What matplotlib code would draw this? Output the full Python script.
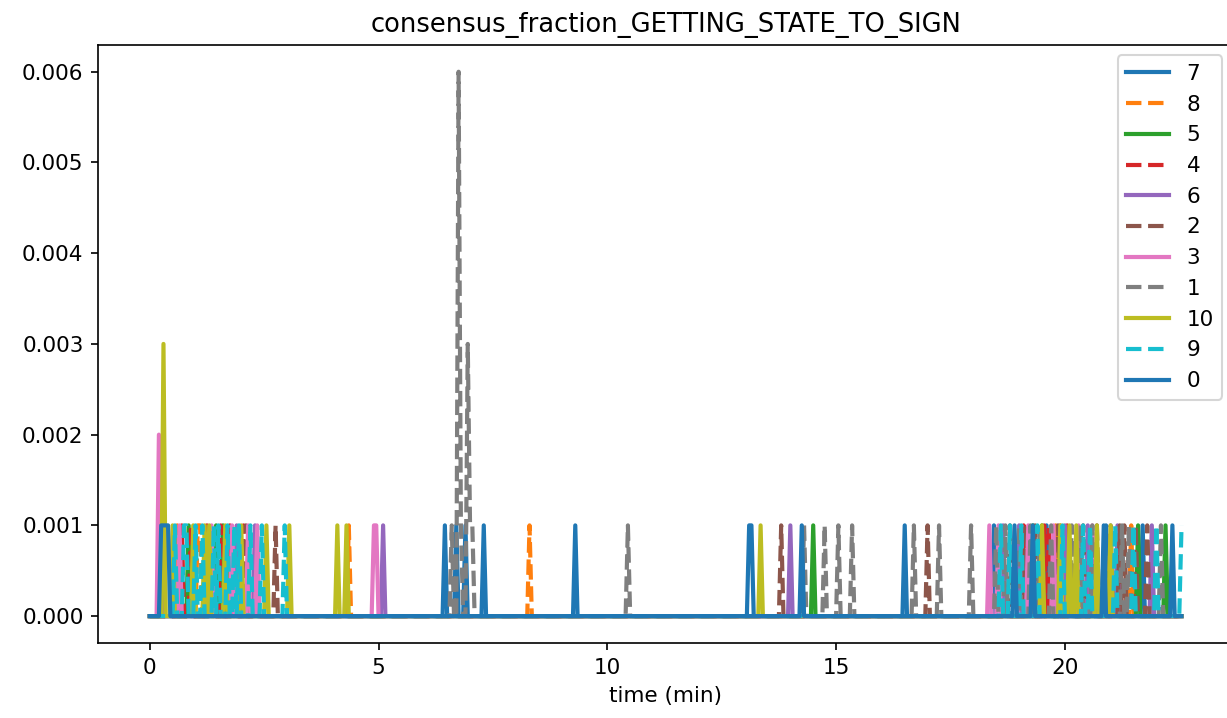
import numpy as np
import matplotlib
matplotlib.use("Agg")
import matplotlib.pyplot as plt

plt.rcParams["font.size"] = 10.3

# sampling (minutes)
dt = 0.05
t_end = 22.55

# spikes per node: (time in min, fraction)
spikes_7 = [(6.45, 0.001), (6.7, 0.001), (6.9, 0.001), (7.3, 0.001), (9.3, 0.001),
            (13.1, 0.001), (13.15, 0.001), (16.5, 0.001), (18.45, 0.001),
            (19.6, 0.001), (20.9, 0.001), (21.7, 0.001)]
spikes_8 = [(0.6, 0.001), (1.05, 0.001), (1.1, 0.001), (4.35, 0.001), (8.3, 0.001),
            (19.8, 0.001), (19.9, 0.001), (21.45, 0.001)]
spikes_5 = [(0.85, 0.001), (1.45, 0.001), (1.6, 0.001), (14.5, 0.001), (19.3, 0.001),
            (19.5, 0.001), (21.6, 0.001), (22.2, 0.001)]
spikes_4 = [(0.7, 0.001), (0.9, 0.001), (1.25, 0.001), (1.55, 0.001), (1.75, 0.001),
            (2.05, 0.001), (19.1, 0.001), (19.55, 0.001), (19.65, 0.001), (20.05, 0.001)]
spikes_6 = [(0.25, 0.0017), (1.9, 0.001), (2.3, 0.001), (5.1, 0.001), (14.0, 0.001),
            (18.65, 0.001), (19.0, 0.001), (20.0, 0.001), (20.5, 0.001), (21.15, 0.001),
            (21.9, 0.001)]
spikes_2 = [(2.1, 0.001), (2.75, 0.001), (13.8, 0.001), (17.0, 0.001), (18.8, 0.001),
            (19.15, 0.001), (19.35, 0.001), (19.85, 0.001), (20.4, 0.001), (20.7, 0.001),
            (21.2, 0.001), (21.3, 0.001), (21.55, 0.001), (21.8, 0.001)]
spikes_3 = [(0.2, 0.002), (0.65, 0.001), (1.35, 0.001), (1.8, 0.001), (2.15, 0.001),
            (2.35, 0.001), (4.9, 0.001), (4.95, 0.001), (18.35, 0.001), (18.55, 0.001),
            (19.2, 0.001), (19.75, 0.001), (20.3, 0.001), (20.6, 0.001)]
spikes_1 = [(6.6, 0.001), (6.75, 0.006), (6.8, 0.001), (6.95, 0.003), (7.0, 0.001),
            (7.05, 0.001), (10.45, 0.001), (14.3, 0.001), (14.75, 0.001), (15.05, 0.001),
            (15.35, 0.001), (16.7, 0.001), (17.25, 0.001), (17.95, 0.001), (18.5, 0.001),
            (18.7, 0.001), (19.0, 0.001), (19.25, 0.001), (19.45, 0.001), (19.7, 0.001),
            (20.15, 0.001), (20.35, 0.001), (20.6, 0.001), (21.0, 0.001), (21.25, 0.001),
            (21.4, 0.001), (22.1, 0.001)]
spikes_10 = [(0.3, 0.003), (0.5, 0.001), (0.95, 0.001), (1.2, 0.001), (1.3, 0.001),
             (1.65, 0.001), (2.0, 0.001), (2.55, 0.001), (3.05, 0.001), (4.1, 0.001),
             (4.3, 0.001), (13.35, 0.001), (19.5, 0.001), (19.9, 0.001), (20.1, 0.001),
             (20.25, 0.001), (20.7, 0.001), (21.0, 0.001)]
spikes_9 = [(0.55, 0.001), (0.75, 0.001), (0.8, 0.001), (1.0, 0.001), (1.15, 0.001),
            (1.4, 0.001), (1.5, 0.001), (1.7, 0.001), (1.85, 0.001), (1.95, 0.001),
            (2.2, 0.001), (2.45, 0.001), (2.95, 0.001), (18.6, 0.001), (18.8, 0.001),
            (19.05, 0.001), (19.4, 0.001), (19.95, 0.001), (20.4, 0.001), (20.55, 0.001),
            (21.1, 0.001), (21.5, 0.001), (22.0, 0.001), (22.55, 0.001)]
spikes_0 = [(0.25, 0.001), (0.3, 0.001), (0.35, 0.001), (0.4, 0.001), (14.25, 0.001),
            (18.9, 0.001), (19.3, 0.001), (20.85, 0.001), (22.35, 0.001)]

labels = ["7", "8", "5", "4", "6", "2", "3", "1", "10", "9", "0"]
all_spikes = [spikes_7, spikes_8, spikes_5, spikes_4, spikes_6, spikes_2,
              spikes_3, spikes_1, spikes_10, spikes_9, spikes_0]

t = np.arange(0, t_end + dt / 2, dt)


def build_series(spikes):
    y = np.zeros(len(t))
    for ts, v in spikes:
        i = int(round(ts / dt))
        y[i] = max(y[i], v)
    return y


fig = plt.figure(figsize=(1227 / 150, 718 / 150), dpi=150)
ax = fig.add_subplot(111)
# the right spine falls just past the right edge of the picture
fig.subplots_adjust(left=0.08, right=1.005, bottom=0.104, top=0.938)

for i, (lab, sp) in enumerate(zip(labels, all_spikes)):
    ls = "-" if i % 2 == 0 else "--"
    ax.plot(t, build_series(sp), ls, color="C%d" % (i % 10), lw=2, label=lab)

ax.set_title("consensus_fraction_GETTING_STATE_TO_SIGN")
ax.set_xlabel("time (min)")
ax.legend(loc="upper right")
fig.savefig("out.png", dpi=150)
